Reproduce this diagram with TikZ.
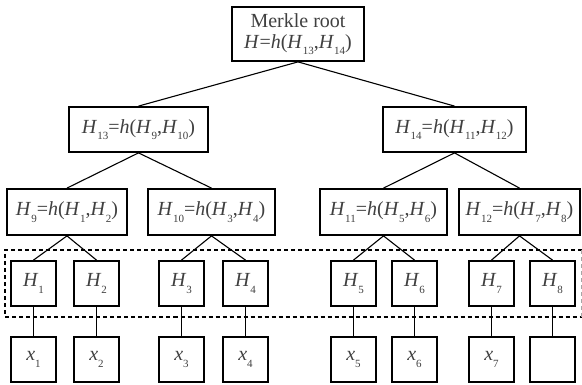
\documentclass[tikz,border=0pt]{standalone}
\usepackage{fontspec}
\setmainfont{Liberation Serif}
% lowered, smaller index used in the hash labels
\newcommand\lowidx[1]{\raisebox{-0.32em}{\fontsize{11}{11}\selectfont #1}}
\newcommand\hx[1]{\textit{H}\lowidx{#1}}
\tikzset{
  box/.style={draw, line width=1.8pt, inner sep=0pt, align=center,
    font=\fontsize{20}{23}\selectfont, text=black!75},
  leafbox/.style={box, minimum width=45pt, minimum height=45pt},
  midbox/.style={box, minimum height=46pt},
  link/.style={line width=1.1pt},
  group/.style={line width=1.8pt, dash pattern=on 4pt off 3pt}
}
\begin{document}
\begin{tikzpicture}[x=1pt,y=-1pt]
\useasboundingbox (0,0) rectangle (582,385);

% root
\node[box, minimum width=132pt, minimum height=54pt] (root) at (298,34)
  {Merkle root\\[-2pt]\textit{H}=\textit{h}(\hx{13},\hx{14})};

% level 1
\node[box, minimum width=139pt, minimum height=45pt] (h13) at (138.5,129.5)
  {\hx{13}=\textit{h}(\hx{9},\hx{10})};
\node[box, minimum width=143pt, minimum height=45pt] (h14) at (454.5,129.5)
  {\hx{14}=\textit{h}(\hx{11},\hx{12})};

% level 2
\node[midbox, minimum width=120pt] (h9)  at (67,212)    {\hx{9}=\textit{h}(\hx{1},\hx{2})};
\node[midbox, minimum width=127pt] (h10) at (211.5,212) {\hx{10}=\textit{h}(\hx{3},\hx{4})};
\node[midbox, minimum width=127pt] (h11) at (383.5,212) {\hx{11}=\textit{h}(\hx{5},\hx{6})};
\node[midbox, minimum width=121pt] (h12) at (519.5,212) {\hx{12}=\textit{h}(\hx{7},\hx{8})};

% leaf hashes and data blocks
\foreach \i/\x in {1/33.5,2/96.5,3/181.5,4/245.5,5/353.5,6/414.5,7/491.5,8/552.5}{
  \node[leafbox] (H\i) at (\x,283.5) {\hx{\i}};
}
\foreach \i/\x in {1/33.5,2/96.5,3/181.5,4/245.5,5/353.5,6/414.5,7/491.5}{
  \node[leafbox] (x\i) at (\x,359.5) {\textit{x}\lowidx{\i}};
}
\node[leafbox] (x8) at (552.5,359.5) {};

% tree links
\draw[link] (root.south) -- (h13.north);
\draw[link] (root.south) -- (h14.north);
\draw[link] (h13.south) -- (h9.north);
\draw[link] (h13.south) -- (h10.north);
\draw[link] (h14.south) -- (h11.north);
\draw[link] (h14.south) -- (h12.north);
\draw[link] (h9.south)  -- (H1.north);
\draw[link] (h9.south)  -- (H2.north);
\draw[link] (h10.south) -- (H3.north);
\draw[link] (h10.south) -- (H4.north);
\draw[link] (h11.south) -- (H5.north);
\draw[link] (h11.south) -- (H6.north);
\draw[link] (h12.south) -- (H7.north);
\draw[link] (h12.south) -- (H8.north);
\foreach \i in {1,...,8}{ \draw[link] (H\i.south) -- (x\i.north); }

% leaf-hash group: dark on three sides, faint right edge
\coordinate (ga) at (5,250);
\coordinate (gb) at (581.5,317);
\draw[group] (gb |- ga) -- (ga) -- (ga |- gb) -- (gb);
\draw[group, line width=1pt, black!35] (gb) -- (gb |- ga);
\end{tikzpicture}
\end{document}
